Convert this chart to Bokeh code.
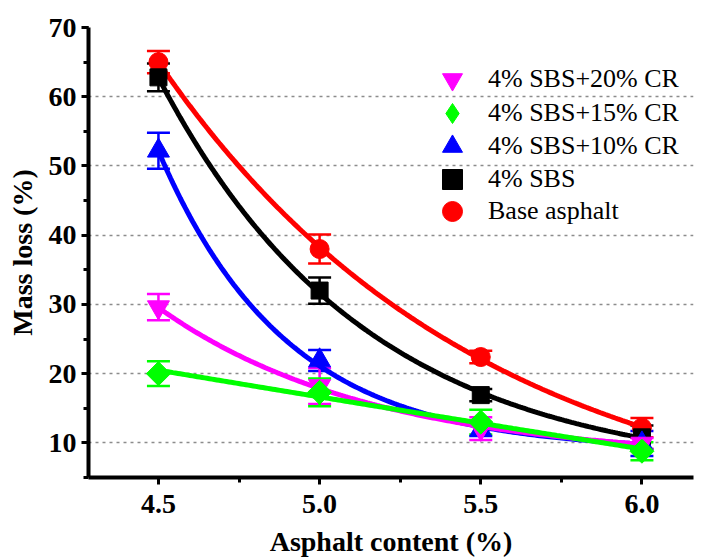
import numpy as np
from bokeh.plotting import figure
from bokeh.models import (Range1d, FixedTicker, SingleIntervalTicker, PrintfTickFormatter,
                          Whisker, TeeHead, ColumnDataSource, Legend, LegendItem)
from bokeh.embed import file_html
from bokeh.resources import INLINE

# ---- data ----
asphalt_content = [4.5, 5.0, 5.5, 6.0]
x_ticks = [4.5, 5.0, 5.5, 6.0]
x_minor = [4.75, 5.25, 5.75]

base_asphalt = [65.0, 38.0, 22.4, 12.2]
base_asphalt_err = [1.6, 2.1, 0.9, 1.4]

sbs4 = [62.8, 32.0, 16.9, 10.8]
sbs4_err = [2.0, 1.9, 0.9, 1.7]

sbs4_cr10 = [52.2, 21.9, 11.9, 9.9]
sbs4_cr10_err = [2.6, 1.5, 0.9, 1.8]

sbs4_cr15 = [20.0, 17.3, 13.0, 8.8]
sbs4_cr15_err = [1.8, 2.0, 1.8, 1.3]

sbs4_cr20 = [29.6, 18.2, 12.05, 9.9]
sbs4_cr20_err = [1.9, 2.6, 1.65, 0.8]

legend_order = ["4% SBS+20% CR", "4% SBS+15% CR", "4% SBS+10% CR", "4% SBS", "Base asphalt"]


def exp_fit(x, y):
    """Least-squares fit y = a*exp(b*x) + c to the data (smooth fitted curve)."""
    x = np.asarray(x, float)
    y = np.asarray(y, float)
    best = None
    for c in np.linspace(-200, y.min() - 0.05, 4000):
        coef = np.polyfit(x, np.log(y - c), 1)
        pred = np.exp(np.polyval(coef, x)) + c
        sse = float(((pred - y) ** 2).sum())
        if best is None or sse < best[0]:
            best = (sse, coef, c)
    _, coef, c = best
    xs = np.linspace(x.min(), x.max(), 200)
    return xs, np.exp(np.polyval(coef, xs)) + c


FONT = "Liberation Serif"

p = figure(width=702, height=559, x_range=Range1d(4.283, 6.16), y_range=Range1d(5, 70),
           output_backend="svg", toolbar_location=None,
           min_border_left=88, min_border_right=9, min_border_top=27, min_border_bottom=81)
p.outline_line_color = None
p.background_fill_color = "white"
p.border_fill_color = "white"

p.xgrid.visible = False
p.ygrid.ticker = FixedTicker(ticks=[10, 20, 30, 40, 50, 60])
p.ygrid.grid_line_color = "#8c8c8c"
p.ygrid.grid_line_dash = "3 4"
p.ygrid.grid_line_width = 1.5

for ax in (p.xaxis[0], p.yaxis[0]):
    ax.axis_line_width = 4
    ax.major_tick_line_width = 3
    ax.minor_tick_line_width = 3
    ax.major_tick_in = 0
    ax.major_tick_out = 7
    ax.minor_tick_in = 0
    ax.minor_tick_out = 5
    ax.major_label_text_font = FONT
    ax.major_label_text_font_style = "bold"
    ax.major_label_text_font_size = "28px"
    ax.axis_label_text_font = FONT
    ax.axis_label_text_font_style = "bold"
    ax.axis_label_text_font_size = "28px"
    ax.major_label_text_color = "black"
    ax.axis_label_text_color = "black"

p.xaxis.ticker = FixedTicker(ticks=x_ticks, minor_ticks=x_minor)
p.xaxis.formatter = PrintfTickFormatter(format="%.1f")
p.xaxis.axis_label = "Asphalt content (%)"
p.xaxis.major_label_standoff = 10
p.xaxis.axis_label_standoff = 10

p.yaxis.ticker = SingleIntervalTicker(interval=10, num_minor_ticks=2)
p.yaxis.axis_label = "Mass loss (%)"
p.yaxis.major_label_standoff = 5
p.yaxis.axis_label_standoff = 8

series = [
    ("Base asphalt", base_asphalt, base_asphalt_err, "#ff0000", "circle", 19, 0.0),
    ("4% SBS", sbs4, sbs4_err, "#000000", "square", 17, 0.0),
    ("4% SBS+10% CR", sbs4_cr10, sbs4_cr10_err, "#0000ff", "triangle", 22, 0.0),
    ("4% SBS+20% CR", sbs4_cr20, sbs4_cr20_err, "#ff00ff", "inverted_triangle", 22, 0.0),
    ("4% SBS+15% CR", sbs4_cr15, sbs4_cr15_err, "#00ff00", "square", 17, np.pi / 4),
]

legend_renderers = {}
for name, vals, errs, color, marker, size, angle in series:
    xs, ys = exp_fit(asphalt_content, vals)
    p.line(xs, ys, line_color=color, line_width=5)
    src = ColumnDataSource(dict(x=asphalt_content, y=vals,
                                upper=[v + e for v, e in zip(vals, errs)],
                                lower=[v - e for v, e in zip(vals, errs)]))
    r = p.scatter("x", "y", source=src, marker=marker, size=size, angle=angle,
                  fill_color=color, line_color=color)
    w = Whisker(base="x", upper="upper", lower="lower", source=src,
                line_color=color, line_width=2.5,
                upper_head=TeeHead(size=23, line_color=color, line_width=2.5),
                lower_head=TeeHead(size=23, line_color=color, line_width=2.5))
    p.add_layout(w)
    if name == "4% SBS+15% CR":
        # hidden twin renderer so that the legend shows a diamond shape
        lr = p.scatter("x", "y", source=src, marker="diamond", fill_color=color,
                       line_color=color, visible=False)
        legend_renderers[name] = lr
    else:
        legend_renderers[name] = r

# one single-item legend per entry, stacked with a 33 px pitch
legend_offsets = [373, 339, 306, 273, 241]
for name, off in zip(legend_order, legend_offsets):
    lg = Legend(items=[LegendItem(label=name, renderers=[legend_renderers[name]])],
                location=(339, off), glyph_width=50, glyph_height=50, label_height=50,
                spacing=0, padding=0, margin=0, label_standoff=11,
                border_line_alpha=0, background_fill_alpha=0,
                label_text_font=FONT, label_text_font_size="26px", label_text_color="black")
    p.add_layout(lg)

open("out.html", "w").write(file_html(p, INLINE))
